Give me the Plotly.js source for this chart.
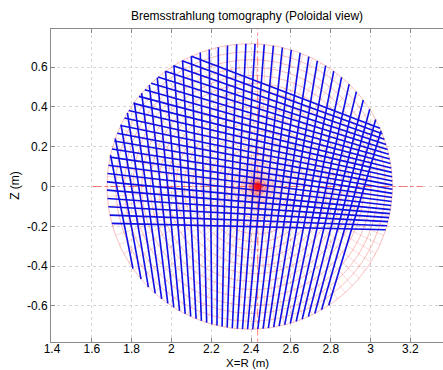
<!DOCTYPE html>
<html><head><meta charset="utf-8">
<script src="https://cdn.plot.ly/plotly-3.0.1.min.js"></script>
<style>html,body{margin:0;padding:0;background:#fff;overflow:hidden}#chart{width:443px;height:370px}</style>
</head><body><div id="chart"></div>
<script>
// ---- data (metres / degrees) ----
const plasmaBoundary = [2.393, 0.0, 0.717];       // R0, Z0, minor radius a
const shafranovShift = [0.04];                    // axis shift of inner surfaces
const fluxRho = [0.040,0.080,0.120,0.159,0.199,0.239,0.279,0.319,0.359,0.398,0.438,0.478,0.518,0.558,0.598,0.637,0.677,0.717];
const polAngles = [0,4,8,12,16,20,24,28,32,36,40,44,48,52,56,60,64,68,72,76,80,84,88,92,96,100,104,108,112,116,120,124,128,132,136,140,144,148,152,156,160,164,168,172,176,180,184,188,192,196,200,204,208,212,216,220,224,228,232,236,240,244,248,252,256,260,264,268,272,276,280,284,288,292,296,300,304,308,312,316,320,324,328,332,336,340,344,348,352,356];
const camVertOrigin = [2.22, -2.5];
const camVertAngles = [-11.20,-10.38,-9.56,-8.74,-7.92,-7.10,-6.28,-5.46,-4.64,-3.82,-3.00,-2.18,-1.36,-0.54,0.28,1.10,1.92,2.74,3.56,4.38,5.20,6.02,6.84,7.66,8.48,9.30,10.12,10.94,11.76,12.58,13.40,14.22,15.04,15.86,16.68];
const camHorOrigin = [4.47, -0.25];
const camHorAngles = [1.34,2.19,3.04,3.89,4.74,5.59,6.44,7.29,8.14,8.99,9.84,10.69,11.54,12.39,13.24,14.09,14.94,15.79,16.64,17.49,18.34,19.19,20.04,20.89];
const crossHalfLen = [0.83];
const xTickVals = [1.4,1.6,1.8,2,2.2,2.4,2.6,2.8,3,3.2];
const xTickText = ['1.4','1.6','1.8','2','2.2','2.4','2.6','2.8','3','3.2'];
const yTickVals = [-0.6,-0.4,-0.2,0,0.2,0.4,0.6];
const yTickText = ['-0.6','-0.4','-0.2','0','0.2','0.4','0.6'];

// ---- geometry helpers ----
const R0 = plasmaBoundary[0], Z0 = plasmaBoundary[1], A = plasmaBoundary[2];
const D = shafranovShift[0];
const rad = d => d * Math.PI / 180;
const surfCenter = rho => R0 + D * (1 - (rho / A) * (rho / A));
const axisR = surfCenter(0);

function chord(P, d) {
  const px = P[0] - R0, pz = P[1] - Z0;
  const b = d[0] * px + d[1] * pz;
  const c = px * px + pz * pz - A * A;
  const disc = b * b - c;
  if (disc <= 0) return null;
  const s = Math.sqrt(disc);
  const t1 = -b - s, t2 = -b + s;
  return [[P[0] + t1 * d[0], P[1] + t1 * d[1]], [P[0] + t2 * d[0], P[1] + t2 * d[1]]];
}

// flux surfaces
const fx = [], fy = [];
fluxRho.forEach(rho => {
  const c = surfCenter(rho);
  for (let i = 0; i <= 180; i++) {
    const t = 2 * Math.PI * i / 180;
    fx.push(c + rho * Math.cos(t)); fy.push(Z0 + rho * Math.sin(t));
  }
  fx.push(null); fy.push(null);
});
// radial grid lines
const rx = [], ry = [];
polAngles.forEach(a => {
  const t = rad(a);
  rx.push(axisR); ry.push(Z0);
  fluxRho.forEach(rho => {
    rx.push(surfCenter(rho) + rho * Math.cos(t)); ry.push(Z0 + rho * Math.sin(t));
  });
  rx.push(null); ry.push(null);
});
// lines of sight
const vx = [], vy = [];
camVertAngles.forEach(a => {
  const seg = chord(camVertOrigin, [Math.sin(rad(a)), Math.cos(rad(a))]);
  if (seg) { vx.push(seg[0][0], seg[1][0], null); vy.push(seg[0][1], seg[1][1], null); }
});
const hx = [], hy = [];
camHorAngles.forEach(a => {
  const seg = chord(camHorOrigin, [-Math.cos(rad(a)), Math.sin(rad(a))]);
  if (seg) { hx.push(seg[0][0], seg[1][0], null); hy.push(seg[0][1], seg[1][1], null); }
});

const gridRed = 'rgba(240,70,70,0.58)';
const radRed = 'rgba(240,70,70,0.4)';
const blue = 'rgb(15,15,230)';
const traces = [
  {x: [axisR - crossHalfLen[0], axisR + crossHalfLen[0]], y: [Z0, Z0], mode: 'lines',
   line: {color: 'rgba(255,60,60,0.8)', width: 0.8, dash: 'dashdot'}},
  {x: [axisR, axisR], y: [Z0 - crossHalfLen[0] - 0.1, Z0 + crossHalfLen[0] + 0.1], mode: 'lines',
   line: {color: 'rgba(255,60,60,0.8)', width: 0.8, dash: 'dashdot'}},
  {x: fx, y: fy, mode: 'lines', line: {color: gridRed, width: 0.6}},
  {x: rx, y: ry, mode: 'lines', line: {color: radRed, width: 0.5}},
  {x: vx, y: vy, mode: 'lines', line: {color: blue, width: 1.6}},
  {x: hx, y: hy, mode: 'lines', line: {color: blue, width: 1.6}},
  {x: [axisR, axisR, axisR, axisR], y: [Z0, Z0, Z0, Z0], mode: 'markers',
   marker: {size: [30, 18, 11, 7], color: ['rgba(255,0,0,0.06)','rgba(255,0,0,0.14)','rgba(255,0,0,0.4)','rgba(255,0,0,1)'], line: {width: 0}}}
];

const font = {family: 'Liberation Sans, Arial, sans-serif', size: 12, color: '#000'};
const axisCommon = {
  showline: true, linecolor: '#8a8a8a', linewidth: 1, mirror: 'allticks',
  ticks: 'inside', ticklen: 4, tickcolor: '#8a8a8a',
  showgrid: true, gridcolor: '#d6d6d6', griddash: 'dot', gridwidth: 1,
  zeroline: false, tickfont: font, automargin: false
};
const layout = {
  width: 443, height: 370,
  margin: {l: 51, r: 0, t: 29, b: 28},
  paper_bgcolor: '#fff', plot_bgcolor: '#fff',
  showlegend: false,
  font: font,
  title: {text: 'Bremsstrahlung tomography (Poloidal view)', font: {family: font.family, size: 12, color: '#000'},
          x: 0.5, xref: 'paper', y: 1 - 16 / 370, yref: 'container', yanchor: 'middle'},
  xaxis: Object.assign({}, axisCommon, {range: [1.395, 3.364], tickmode: 'array', tickvals: xTickVals, ticktext: xTickText,
          ticklabelstandoff: -4}),
  yaxis: Object.assign({}, axisCommon, {range: [-0.781, 0.791], tickmode: 'array', tickvals: yTickVals, ticktext: yTickText,
          title: {text: 'Z (m)', font: font, standoff: 4}}),
  annotations: [{text: 'X=R (m)', xref: 'paper', yref: 'paper', x: 0.5, y: -0.0665, xanchor: 'center', yanchor: 'middle',
                 showarrow: false, font: {family: font.family, size: 11.5, color: '#000'}, borderpad: 0}]
};
Plotly.newPlot('chart', traces, layout, {staticPlot: true, displayModeBar: false});
</script>
</body></html>
